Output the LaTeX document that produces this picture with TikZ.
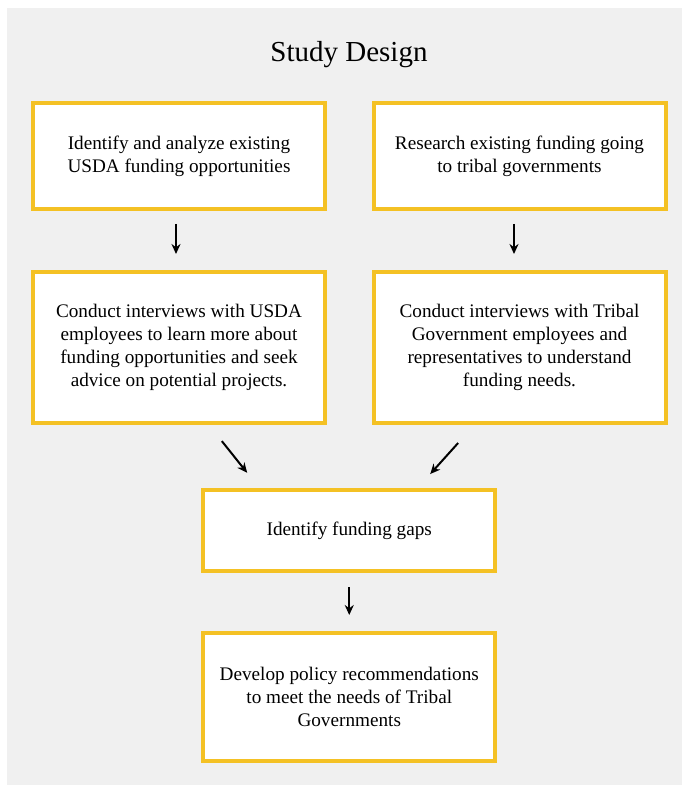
\documentclass[tikz,border=0pt]{standalone}
\usepackage{fontspec}
\setmainfont{Liberation Serif}
\usetikzlibrary{arrows.meta, calc, positioning}
\definecolor{boxgold}{RGB}{244,193,36}
\definecolor{pagegray}{RGB}{240,240,240}
\tikzset{%
    edge/.style={%
        ->,
        >={Stealth[length=5pt, width=4.5pt]},
        line width=1pt,
    },
    stepbox/.style={%
        rectangle,
        fill=white,
        draw=boxgold, line width=2pt,
        minimum width=146pt,
        font=\fontsize{9.6}{11.5}\selectfont,
        align=center,
        inner sep=0pt,
    },
}

\begin{document}
\begin{tikzpicture}
	\useasboundingbox (0,0) rectangle (341pt,-392.5pt);
	\fill[pagegray] (3.5pt,-4pt) rectangle (341pt,-392.5pt);

	\coordinate (left_side) at (89.5pt, -78pt);
	\coordinate (right_side) at (259.75pt, -78pt);

	\node at (174.5pt, -27.5pt) (title) {\fontsize{14.5}{17}\selectfont Study Design};

	\node [stepbox, minimum height=53pt] at (left_side) (usda_funding) {Identify and analyze existing\\USDA funding opportunities};
	\node [stepbox, minimum height=53pt] at (right_side) (tribal_funding) {Research existing funding going\\to tribal governments};
	\node [stepbox, minimum height=75.5pt, below=29.5pt of usda_funding] (usda_interviews) {Conduct interviews with USDA\\employees to learn more about\\funding opportunities and seek\\advice on potential projects.};
	\node [stepbox, minimum height=75.5pt, below=29.5pt of tribal_funding] (tribal_interviews) {Conduct interviews with Tribal\\Government employees and\\representatives to understand\\funding needs.};

	\coordinate (middle) at ($(usda_interviews.south)!0.5!(tribal_interviews.south)$);
	\node [stepbox, minimum height=40.5pt, below=31.5pt of middle] (gaps) {Identify funding gaps};
	\node [stepbox, minimum height=64pt, below=29pt of gaps] (policy) {Develop policy recommendations\\to meet the needs of Tribal\\Governments};

	\draw[edge, shorten <=6.5pt, shorten >=8pt] ($(usda_funding.south) + (-1.5pt, 0)$) -- ($(usda_interviews.north) + (-1.5pt, 0)$);
	\draw[edge, shorten <=6.5pt, shorten >=8pt] ($(tribal_funding.south) + (-2.75pt, 0)$) -- ($(tribal_interviews.north) + (-2.75pt, 0)$);
	\draw[edge, shorten <=10.3pt, shorten >=9.7pt] ($(usda_interviews.south) + (15pt, 0)$) -- ($(gaps.north west) + (29pt, 0)$);
	\draw[edge, shorten <=12.1pt, shorten >=9.4pt] ($(tribal_interviews.south) + (-22.6pt, 0)$) -- ($(gaps.north east) + (-39.8pt, 0)$);
	\draw[edge, shorten <=7pt, shorten >=8pt] (gaps) -- (policy);
\end{tikzpicture}
\end{document}
